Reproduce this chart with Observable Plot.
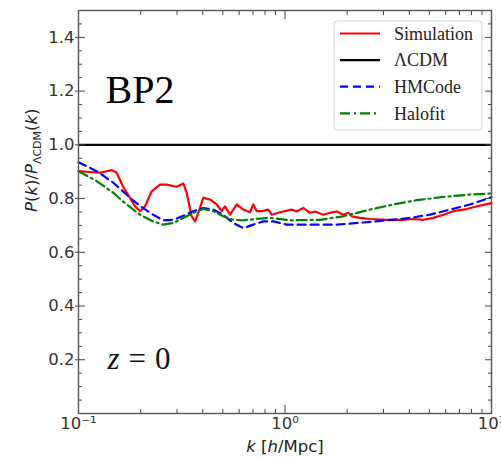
<!DOCTYPE html>
<html><head><meta charset="utf-8">
<script src="https://cdn.jsdelivr.net/npm/d3@7"></script>
<script src="https://cdn.jsdelivr.net/npm/@observablehq/plot@0.6"></script>
<style>body{margin:0;background:#fff}</style>
</head><body><div id="chart"></div>
<script>
// ---- data ----
const simK = [0.100,0.127,0.145,0.153,0.164,0.188,0.199,0.210,0.226,0.248,0.267,0.299,0.322,0.334,0.353,0.367,0.388,0.402,0.434,0.467,0.494,0.512,0.542,0.583,0.628,0.677,0.702,0.730,0.771,0.830,0.862,0.946,0.981,1.078,1.139,1.226,1.321,1.397,1.533,1.652,1.780,1.916,2.026,2.104,2.307,2.580,3.108,3.740,4.18,4.674,5.226,5.844,6.53,7.58,8.80,10.0];
const simRatio = [0.902,0.896,0.906,0.896,0.846,0.771,0.753,0.771,0.827,0.852,0.852,0.844,0.856,0.822,0.734,0.715,0.766,0.803,0.796,0.778,0.753,0.771,0.740,0.778,0.759,0.749,0.778,0.753,0.753,0.759,0.740,0.749,0.752,0.759,0.752,0.765,0.747,0.752,0.740,0.747,0.752,0.740,0.747,0.734,0.728,0.724,0.721,0.721,0.724,0.721,0.728,0.740,0.753,0.761,0.774,0.783];
const hmK = [0.100,0.1225,0.1475,0.1775,0.1986,0.230,0.2574,0.2877,0.3217,0.360,0.402,0.4496,0.502,0.562,0.628,0.702,0.785,0.878,1.019,1.226,1.780,2.394,3.108,4.029,5.037,6.295,7.87,10.0];
const hmRatio = [0.935,0.902,0.859,0.803,0.772,0.740,0.719,0.721,0.736,0.753,0.765,0.759,0.740,0.709,0.690,0.703,0.715,0.715,0.703,0.703,0.703,0.711,0.719,0.728,0.740,0.759,0.778,0.805];
const hfK = [0.100,0.1225,0.1475,0.171,0.1986,0.230,0.2574,0.2877,0.3217,0.360,0.402,0.4496,0.502,0.562,0.628,0.7295,0.846,1.019,1.057,1.477,1.916,2.580,3.346,4.345,5.844,7.87,10.0];
const hfRatio = [0.902,0.865,0.821,0.778,0.740,0.715,0.703,0.709,0.728,0.747,0.761,0.753,0.734,0.721,0.719,0.724,0.728,0.721,0.719,0.721,0.734,0.759,0.778,0.794,0.806,0.815,0.819];
const lcdmRatio = [1.0];
const seriesNames = ["Simulation", "\u039BCDM", "HMCode", "Halofit"];
const seriesColors = ["#ff0000", "#000000", "#0000ff", "#008000"];
const seriesDash = [null, null, "8,5", "10,4,2,4"];
const xTicks = [0.1, 1, 10];
const xTickLabels = ["10\u207B\u00B9", "10\u2070", "10\u00B9"];
const yTicks = [0.2, 0.4, 0.6, 0.8, 1.0, 1.2, 1.4];
const yTickLabels = ["0.2", "0.4", "0.6", "0.8", "1.0", "1.2", "1.4"];

const sim = simK.map((k, i) => ({k, v: simRatio[i]}));
const hm = hmK.map((k, i) => ({k, v: hmRatio[i]}));
const hf = hfK.map((k, i) => ({k, v: hfRatio[i]}));
const xLab = xTicks.map((k, i) => ({k, label: xTickLabels[i]}));
const yMinor = d3.range(1, 30).map(i => i * 0.05).filter(v => Math.abs(v / 0.2 - Math.round(v / 0.2)) > 1e-6);
const xMinor = [];
for (const d of [0.1, 1]) for (let m = 2; m <= 9; m++) xMinor.push(d * m);

const tickColor = "#444";
const noText = () => "";
const lw = 2.2;

const chart = Plot.plot({
  width: 501, height: 459,
  marginLeft: 78, marginRight: 10, marginTop: 10, marginBottom: 46,
  x: {type: "log", domain: [0.1, 10]},
  y: {domain: [0, 1.5]},
  style: {fontFamily: "DejaVu Sans", fontSize: "16.5px", background: "white", color: "#333"},
  marks: [
    Plot.line(sim, {x: "k", y: "v", stroke: seriesColors[0], strokeWidth: lw}),
    Plot.ruleY(lcdmRatio, {stroke: seriesColors[1], strokeWidth: lw}),
    Plot.line(hm, {x: "k", y: "v", stroke: seriesColors[2], strokeWidth: lw, strokeDasharray: seriesDash[2]}),
    Plot.line(hf, {x: "k", y: "v", stroke: seriesColors[3], strokeWidth: lw, strokeDasharray: seriesDash[3]}),
    // left axis labels + ticks
    Plot.axisY(yTicks, {anchor: "left", tickSize: 3, tickPadding: 1, tickFormat: (d, i) => yTickLabels[i], label: null, stroke: tickColor, fill: "#333"}),
    Plot.axisY(yTicks, {anchor: "left", tickSize: -7, tickFormat: noText, label: null, stroke: tickColor}),
    Plot.axisY(yMinor, {anchor: "left", tickSize: -4, tickFormat: noText, label: null, stroke: tickColor}),
    Plot.axisY(yTicks, {anchor: "right", tickSize: -7, tickFormat: noText, label: null, stroke: tickColor}),
    Plot.axisY(yMinor, {anchor: "right", tickSize: -4, tickFormat: noText, label: null, stroke: tickColor}),
    // x axis
    Plot.text(xLab, {x: "k", text: "label", frameAnchor: "bottom", dy: 4, lineAnchor: "top", fontSize: 16.5, fill: "#333"}),
    Plot.axisX(xTicks, {anchor: "bottom", tickSize: -8, tickFormat: noText, label: null, stroke: tickColor}),
    Plot.axisX(xMinor, {anchor: "bottom", tickSize: -4, tickFormat: noText, label: null, stroke: tickColor}),
    Plot.axisX(xTicks, {anchor: "top", tickSize: -8, tickFormat: noText, label: null, stroke: tickColor}),
    Plot.axisX(xMinor, {anchor: "top", tickSize: -4, tickFormat: noText, label: null, stroke: tickColor}),
    Plot.frame({stroke: "#555", strokeWidth: 1.4}),
    // annotations
    Plot.text(["BP2"], {frameAnchor: "top-left", dx: 27, dy: 92, textAnchor: "start", lineAnchor: "bottom", fontFamily: "Liberation Serif", fontSize: 40, fill: "black"}),
    Plot.text(["z = 0"], {frameAnchor: "bottom-left", dx: 29, dy: -45, textAnchor: "start", lineAnchor: "bottom", fontFamily: "Liberation Serif", fontSize: 31, fill: "#111"}),
    Plot.text(["P(k)/P\u039BCDM(k)"], {frameAnchor: "left", dx: -47, rotate: -90, fontSize: 16.5, fill: "#222"}),
    Plot.text(["k [h/Mpc]"], {frameAnchor: "bottom", dy: 38, lineAnchor: "bottom", fontSize: 16.5, fill: "#222"})
  ]
});
document.getElementById("chart").appendChild(chart);

const svg = d3.select(chart);
function rich(txt, parts) {
  svg.selectAll("text").filter(function () { return this.textContent === txt; }).each(function () {
    const t = d3.select(this);
    t.text(null);
    for (const p of parts) {
      const s = t.append("tspan").text(p.t);
      if (p.i) s.attr("font-style", "italic");
      if (p.fs) s.attr("font-size", p.fs);
      if (p.dy) s.attr("dy", p.dy);
      if (p.dx) s.attr("dx", p.dx);
    }
  });
}
rich("P(k)/P\u039BCDM(k)", [{t: "P", i: 1}, {t: "("}, {t: "k", i: 1}, {t: ")/"}, {t: "P", i: 1}, {t: "\u039BCDM", fs: 11, dy: 4}, {t: "(", dy: -4}, {t: "k", i: 1}, {t: ")"}]);
rich("z = 0", [{t: "z", i: 1}, {t: "=", dx: 9}, {t: "0", dx: 9}]);
rich("k [h/Mpc]", [{t: "k", i: 1}, {t: " ["}, {t: "h", i: 1}, {t: "/Mpc]"}]);

// legend
const lg = svg.append("g").attr("font-family", "Liberation Serif").attr("font-size", 18).attr("text-anchor", "start");
lg.append("rect").attr("x", 334).attr("y", 21).attr("width", 148).attr("height", 109)
  .attr("rx", 3).attr("fill", "white").attr("fill-opacity", 0.85).attr("stroke", "#cfcfcf");
seriesNames.forEach((name, i) => {
  const y = 33.5 + i * 26.6;
  lg.append("line").attr("x1", 340).attr("x2", 380).attr("y1", y).attr("y2", y)
    .attr("stroke", seriesColors[i]).attr("stroke-width", lw)
    .attr("stroke-dasharray", seriesDash[i]);
  lg.append("text").attr("x", 394).attr("y", y).attr("dy", "0.35em").attr("text-anchor", "start").attr("fill", "#222").text(name);
});
</script>
</body></html>
